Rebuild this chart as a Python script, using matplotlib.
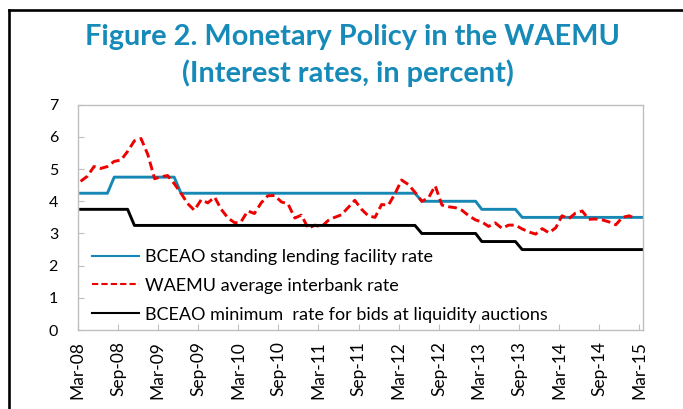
import numpy as np
import pandas as pd
import matplotlib
matplotlib.use('Agg')
import matplotlib.pyplot as plt
from matplotlib.lines import Line2D

plt.rcParams['font.family'] = ['Lato', 'DejaVu Sans']

# monthly data, Mar-08 .. Mar-15 (policy rates) and Mar-08 .. Feb-15 (interbank)
standing_rate = [
    4.25, 4.25, 4.25, 4.25, 4.25, 4.75, 4.75, 4.75, 4.75, 4.75,
    4.75, 4.75, 4.75, 4.75, 4.75, 4.25, 4.25, 4.25, 4.25, 4.25,
    4.25, 4.25, 4.25, 4.25, 4.25, 4.25, 4.25, 4.25, 4.25, 4.25,
    4.25, 4.25, 4.25, 4.25, 4.25, 4.25, 4.25, 4.25, 4.25, 4.25,
    4.25, 4.25, 4.25, 4.25, 4.25, 4.25, 4.25, 4.25, 4.25, 4.25,
    4.25, 4.00, 4.00, 4.00, 4.00, 4.00, 4.00, 4.00, 4.00, 4.00,
    3.75, 3.75, 3.75, 3.75, 3.75, 3.75, 3.50, 3.50, 3.50, 3.50,
    3.50, 3.50, 3.50, 3.50, 3.50, 3.50, 3.50, 3.50, 3.50, 3.50,
    3.50, 3.50, 3.50, 3.50, 3.50,
]
min_bid_rate = [
    3.75, 3.75, 3.75, 3.75, 3.75, 3.75, 3.75, 3.75, 3.25, 3.25,
    3.25, 3.25, 3.25, 3.25, 3.25, 3.25, 3.25, 3.25, 3.25, 3.25,
    3.25, 3.25, 3.25, 3.25, 3.25, 3.25, 3.25, 3.25, 3.25, 3.25,
    3.25, 3.25, 3.25, 3.25, 3.25, 3.25, 3.25, 3.25, 3.25, 3.25,
    3.25, 3.25, 3.25, 3.25, 3.25, 3.25, 3.25, 3.25, 3.25, 3.25,
    3.25, 3.00, 3.00, 3.00, 3.00, 3.00, 3.00, 3.00, 3.00, 3.00,
    2.75, 2.75, 2.75, 2.75, 2.75, 2.75, 2.50, 2.50, 2.50, 2.50,
    2.50, 2.50, 2.50, 2.50, 2.50, 2.50, 2.50, 2.50, 2.50, 2.50,
    2.50, 2.50, 2.50, 2.50, 2.50,
]
interbank_rate = [
    4.62, 4.78, 5.08, 5.02, 5.08, 5.24, 5.28, 5.55, 5.88, 5.95,
    5.45, 4.70, 4.76, 4.80, 4.55, 4.25, 3.93, 3.72, 4.05, 3.95,
    4.13, 3.75, 3.48, 3.33, 3.36, 3.70, 3.62, 3.95, 4.17, 4.18,
    3.98, 3.92, 3.48, 3.57, 3.16, 3.26, 3.20, 3.40, 3.50, 3.58,
    3.80, 4.03, 3.75, 3.55, 3.50, 3.90, 3.88, 4.25, 4.66, 4.52,
    4.28, 4.00, 4.10, 4.48, 3.88, 3.83, 3.80, 3.72, 3.55, 3.42,
    3.36, 3.22, 3.33, 3.16, 3.26, 3.26, 3.14, 3.05, 2.98, 3.15,
    3.02, 3.18, 3.55, 3.46, 3.63, 3.70, 3.44, 3.45, 3.42, 3.36,
    3.27, 3.50, 3.55, 3.45,
]
tick_labels = ['Mar-08', 'Sep-08', 'Mar-09', 'Sep-09', 'Mar-10', 'Sep-10', 'Mar-11',
               'Sep-11', 'Mar-12', 'Sep-12', 'Mar-13', 'Sep-13', 'Mar-14', 'Sep-14', 'Mar-15']

# monthly observations plotted mid-month
months = pd.date_range('2008-03-01', periods=len(standing_rate), freq='MS') + pd.Timedelta(days=14)
tick_dates = pd.date_range('2008-03-01', periods=len(tick_labels), freq='6MS')

blue = '#1787b3'
grey = '#bfbfbf'

fig = plt.figure(figsize=(6.83, 4.09), dpi=100)
ax = fig.add_axes([0.1135, 0.193, 0.828, 0.551])

ax.plot(months, standing_rate, color=blue, lw=2.1, label='BCEAO standing lending facility rate')
ax.plot(months[:len(interbank_rate)], interbank_rate, color='#ee0000', lw=2.1,
        dashes=(3, 1.5), label='WAEMU average interbank rate')
ax.plot(months, min_bid_rate, color='black', lw=2.1,
        label='BCEAO minimum  rate for bids at liquidity auctions')

ax.set_ylim(0, 7)
ax.set_yticks(range(0, 8))
ax.set_xlim(pd.Timestamp('2008-03-01'), pd.Timestamp('2015-03-19'))
ax.set_xticks(tick_dates)
ax.set_xticklabels(tick_labels, rotation=90)

for s in ax.spines.values():
    s.set_color(grey)
    s.set_linewidth(1.0)
ax.tick_params(axis='both', direction='in', color=grey, length=4, labelcolor='black')
ax.tick_params(axis='y', pad=14, labelsize=11.5)
ax.tick_params(axis='x', pad=8, labelsize=12.5)

leg = ax.legend(loc='lower left', bbox_to_anchor=(0.025, 0.033), frameon=False, fontsize=13,
                handlelength=2.64, handletextpad=0.32, labelspacing=0.71, borderpad=0,
                borderaxespad=0)
for h in leg.get_lines():
    h.set_linewidth(1.5)

fig.text(0.516, 0.909, 'Figure 2. Monetary Policy in the WAEMU', ha='center', va='center',
         fontsize=20.8, fontweight='bold', color='#168ab8')
fig.text(0.510, 0.822, '(Interest rates, in percent)', ha='center', va='center',
         fontsize=20.8, fontweight='bold', color='#168ab8')

# outer frame (left and top edges visible)
fig.add_artist(Line2D([8.5 / 683, 8.5 / 683], [0, 1 - 10 / 409], transform=fig.transFigure,
                      color='black', lw=1.9))
fig.add_artist(Line2D([8.5 / 683, 1], [1 - 10 / 409, 1 - 10 / 409], transform=fig.transFigure,
                      color='black', lw=1.9))

plt.savefig('out.png', dpi=100)
